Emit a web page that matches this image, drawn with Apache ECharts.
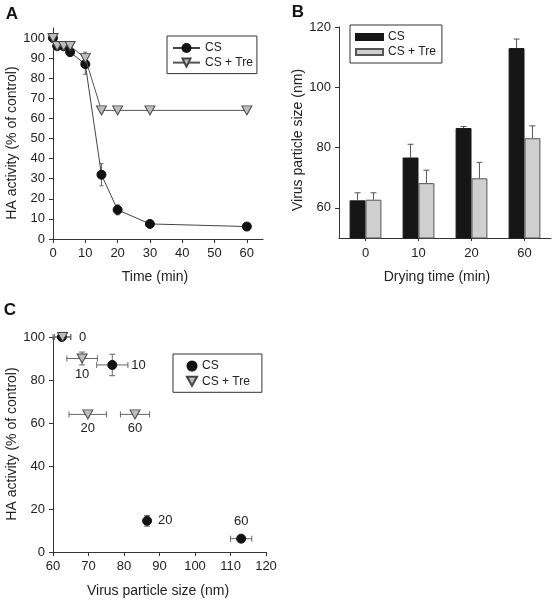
<!DOCTYPE html>
<html><head><meta charset="utf-8">
<script src="https://cdn.jsdelivr.net/npm/echarts@6/dist/echarts.min.js"></script>
<style>html,body{margin:0;padding:0;background:#fff}#c{width:557px;height:601px}</style>
</head><body><div id="c"></div>
<script>
// ---------- Panel A: HA activity vs time ----------
const timeA = [0, 1.3, 3.3, 5.3, 10, 15, 20, 30, 60];
const haCS = [100, 96, 96, 93, 87, 32, 14.5, 7.5, 6.2];
const haCSErr = [0.5, 1, 1, 2, 5, 5.5, 2.5, 1, 1];
const haTre = [100, 96, 96, 96, 90, 64, 64, 64, 64];
const haTreErr = [0.5, 1, 1, 1, 3, 1, 0.5, 0.5, 0.5];
const ticksAx = [0, 10, 20, 30, 40, 50, 60];
const ticksAy = [0, 10, 20, 30, 40, 50, 60, 70, 80, 90, 100];
// ---------- Panel B: particle size vs drying time ----------
const dryCats = ['0', '10', '20', '60'];
const sizeCS = [62.5, 76.7, 86.5, 113];
const sizeCSErr = [2.5, 4.4, 0.5, 3];
const sizeTre = [62.7, 68.2, 69.8, 83.1];
const sizeTreErr = [2.3, 4.3, 5.3, 4.1];
const ticksBy = [60, 80, 100, 120];
// ---------- Panel C ----------
const ticksCx = [60, 70, 80, 90, 100, 110, 120];
const ticksCy = [0, 20, 40, 60, 80, 100];
const seriesNames = ['CS', 'CS + Tre'];

const FONT = "'Liberation Sans', Arial, sans-serif";
const TXT = '#222';
const AX = '#333';

// Build panel C points from A and B
function buildC(sizes, sizeErr, ha, haErr) {
  return dryCats.map((c, i) => {
    const t = Number(c);
    const k = timeA.indexOf(t);
    return [sizes[i], ha[k], sizeErr[i], haErr[k], c];
  });
}
const cCS = buildC(sizeCS, sizeCSErr, haCS, haCSErr);
const cTre = buildC(sizeTre, sizeTreErr, haTre, haTreErr);

function styl(c) { return { stroke: c || '#666', lineWidth: 1 }; }

function errYRender(cap) {
  return function (params, api) {
    const x = api.value(0), y = api.value(1), e = api.value(2);
    const t = api.coord([x, y + e]), b = api.coord([x, y - e]);
    const s = styl();
    return { type: 'group', children: [
      { type: 'line', shape: { x1: t[0], y1: t[1], x2: b[0], y2: b[1] }, style: s },
      { type: 'line', shape: { x1: t[0] - cap, y1: t[1], x2: t[0] + cap, y2: t[1] }, style: s },
      { type: 'line', shape: { x1: b[0] - cap, y1: b[1], x2: b[0] + cap, y2: b[1] }, style: s }
    ] };
  };
}
function errBarRender(side) {
  return function (params, api) {
    const ci = api.value(0), y = api.value(1), e = api.value(2);
    const band = api.size([1, 0])[0];
    const off = side * band * 0.15;
    const t = api.coord([ci, y + e]), b = api.coord([ci, y]);
    const x = t[0] + off;
    const s = styl('#555');
    return { type: 'group', children: [
      { type: 'line', shape: { x1: x, y1: t[1], x2: x, y2: b[1] }, style: s },
      { type: 'line', shape: { x1: x - 3, y1: t[1], x2: x + 3, y2: t[1] }, style: s }
    ] };
  };
}
function errXYRender(params, api) {
  const x = api.value(0), y = api.value(1), ex = api.value(2), ey = api.value(3);
  const s = styl();
  const ch = [];
  const l = api.coord([x - ex, y]), r = api.coord([x + ex, y]);
  ch.push({ type: 'line', shape: { x1: l[0], y1: l[1], x2: r[0], y2: r[1] }, style: s });
  ch.push({ type: 'line', shape: { x1: l[0], y1: l[1] - 3, x2: l[0], y2: l[1] + 3 }, style: s });
  ch.push({ type: 'line', shape: { x1: r[0], y1: r[1] - 3, x2: r[0], y2: r[1] + 3 }, style: s });
  if (ey > 0.6) {
    const t = api.coord([x, y + ey]), b = api.coord([x, y - ey]);
    ch.push({ type: 'line', shape: { x1: t[0], y1: t[1], x2: b[0], y2: b[1] }, style: s });
    ch.push({ type: 'line', shape: { x1: t[0] - 3, y1: t[1], x2: t[0] + 3, y2: t[1] }, style: s });
    ch.push({ type: 'line', shape: { x1: b[0] - 3, y1: b[1], x2: b[0] + 3, y2: b[1] }, style: s });
  }
  return { type: 'group', children: ch };
}

function valAxis(gi, min, max, ticks, extra) {
  return Object.assign({
    type: 'value', gridIndex: gi, min: min, max: max,
    splitLine: { show: false },
    axisLine: { show: true, lineStyle: { color: AX, width: 1 } },
    axisTick: { show: true, length: 4, lineStyle: { color: AX }, customValues: ticks },
    axisLabel: { color: TXT, fontSize: 13, fontFamily: FONT, margin: 8, customValues: ticks }
  }, extra || {});
}

const circleStyle = { color: '#111', borderColor: '#111', borderWidth: 1, opacity: 1 };
const triStyle = { color: '#bdbdbd', borderColor: '#444', borderWidth: 1, opacity: 1 };

// label settings for panel C points (index matches dryCats)
const cLabelCS = [{ show: false }, { show: true, position: 'right', distance: 14 },
  { show: true, position: 'right', distance: 6 }, { show: true, position: 'top', distance: 6 }];
const cLabelTre = [{ show: true, position: 'right', distance: 11 }, { show: true, position: 'bottom', distance: 4 },
  { show: true, position: 'bottom', distance: 3 }, { show: true, position: 'bottom', distance: 3 }];

const labelBase = { color: TXT, fontSize: 13, fontFamily: FONT, formatter: p => p.data.value[4] };

const chart = echarts.init(document.getElementById('c'), null, { renderer: 'canvas' });
const legendText = { color: TXT, fontSize: 12, fontFamily: FONT };
const legendCommon = {
  orient: 'vertical', borderColor: AX, borderWidth: 1, borderRadius: 0,
  backgroundColor: '#fff', textStyle: legendText, selectedMode: false,
  formatter: n => n.trim()
};
const downTri = 'path://M0,0 L10,0 L5,9 Z';

chart.setOption({
  animation: false,
  backgroundColor: '#fff',
  textStyle: { fontFamily: FONT },
  grid: [
    { left: 53, top: 28, width: 210, height: 211 },
    { left: 339, top: 27, width: 212, height: 211 },
    { left: 53, top: 337, width: 213, height: 215 }
  ],
  xAxis: [
    valAxis(0, 0, 65, ticksAx, {}),
    {
      type: 'category', gridIndex: 1, data: dryCats,
      axisLine: { show: true, lineStyle: { color: AX, width: 1 } },
      axisTick: { show: true, alignWithLabel: true, length: 3, lineStyle: { color: AX } },
      axisLabel: { color: TXT, fontSize: 13, fontFamily: FONT, margin: 9 }
    },
    valAxis(2, 60, 120, ticksCx, {})
  ],
  yAxis: [
    valAxis(0, 0, 105, ticksAy, {}),
    valAxis(1, 50, 120, ticksBy, {}),
    valAxis(2, 0, 100, ticksCy, {})
  ],
  legend: [
    Object.assign({ left: 167, top: 36, padding: [6, 4, 5, 5], itemWidth: 27, itemHeight: 10, itemGap: 2.6,
      data: ['CS', 'CS + Tre'] }, legendCommon),
    Object.assign({ left: 350, top: 25, padding: [6, 6, 5, 5], itemWidth: 27, itemHeight: 6, itemGap: 3,
      icon: 'rect', data: ['CS ', 'CS + Tre '] }, legendCommon),
    Object.assign({ left: 173, top: 354, padding: [6, 12, 5, 13], itemWidth: 10, itemHeight: 9, itemGap: 3.3,
      data: [{ name: 'CS  ', icon: 'circle' }, { name: 'CS + Tre  ', icon: downTri }] }, legendCommon)
  ],
  series: [
    // Panel A error bars
    { type: 'custom', name: 'errA1', xAxisIndex: 0, yAxisIndex: 0, z: 1, renderItem: errYRender(2),
      encode: { x: 0, y: 1 }, data: timeA.map((t, i) => [t, haCS[i], haCSErr[i]]) },
    { type: 'custom', name: 'errA2', xAxisIndex: 0, yAxisIndex: 0, z: 1, renderItem: errYRender(2),
      encode: { x: 0, y: 1 }, data: timeA.map((t, i) => [t, haTre[i], haTreErr[i]]) },
    { type: 'line', name: seriesNames[0], xAxisIndex: 0, yAxisIndex: 0, z: 3,
      data: timeA.map((t, i) => [t, haCS[i]]),
      symbol: 'circle', symbolSize: 9, showSymbol: true,
      lineStyle: { color: '#444', width: 1 }, itemStyle: circleStyle },
    { type: 'line', name: seriesNames[1], xAxisIndex: 0, yAxisIndex: 0, z: 4,
      data: timeA.map((t, i) => [t, haTre[i]]),
      symbol: 'triangle', symbolRotate: 180, symbolSize: [10, 9], showSymbol: true,
      lineStyle: { color: '#555', width: 1 }, itemStyle: triStyle },
    // Panel B bars
    { type: 'bar', name: seriesNames[0] + ' ', xAxisIndex: 1, yAxisIndex: 1, z: 2,
      data: sizeCS, barCategoryGap: '40%', barGap: '0%',
      itemStyle: { color: '#161616', borderColor: '#161616', borderWidth: 1 } },
    { type: 'bar', name: seriesNames[1] + ' ', xAxisIndex: 1, yAxisIndex: 1, z: 2,
      data: sizeTre, barCategoryGap: '40%', barGap: '0%',
      itemStyle: { color: '#cfcfcf', borderColor: '#555', borderWidth: 1 } },
    { type: 'custom', name: 'errB1', xAxisIndex: 1, yAxisIndex: 1, z: 1, renderItem: errBarRender(-1),
      encode: { x: 0, y: 1 }, data: dryCats.map((c, i) => [i, sizeCS[i], sizeCSErr[i]]) },
    { type: 'custom', name: 'errB2', xAxisIndex: 1, yAxisIndex: 1, z: 1, renderItem: errBarRender(1),
      encode: { x: 0, y: 1 }, data: dryCats.map((c, i) => [i, sizeTre[i], sizeTreErr[i]]) },
    // Panel C
    { type: 'custom', name: 'errC1', xAxisIndex: 2, yAxisIndex: 2, z: 1, renderItem: errXYRender,
      encode: { x: 0, y: 1 }, data: cCS.map(d => d.slice(0, 4)) },
    { type: 'custom', name: 'errC2', xAxisIndex: 2, yAxisIndex: 2, z: 1, renderItem: errXYRender,
      encode: { x: 0, y: 1 }, data: cTre.map(d => d.slice(0, 4)) },
    { type: 'scatter', name: seriesNames[0] + '  ', xAxisIndex: 2, yAxisIndex: 2, z: 3,
      symbol: 'circle', symbolSize: 9, itemStyle: circleStyle,
      data: cCS.map((d, i) => ({ value: d, label: Object.assign({}, labelBase, cLabelCS[i]) })) },
    { type: 'scatter', name: seriesNames[1] + '  ', xAxisIndex: 2, yAxisIndex: 2, z: 4,
      symbol: 'triangle', symbolRotate: 180, symbolSize: [10, 9], itemStyle: triStyle,
      data: cTre.map((d, i) => ({ value: d, label: Object.assign({}, labelBase, cLabelTre[i]) })) }
  ],
  graphic: [
    { type: 'text', x: 12, y: 14, style: { text: 'A', font: "bold 17px 'Liberation Sans', Arial", fill: '#111', align: 'center', verticalAlign: 'middle' } },
    { type: 'text', x: 298, y: 12, style: { text: 'B', font: "bold 17px 'Liberation Sans', Arial", fill: '#111', align: 'center', verticalAlign: 'middle' } },
    { type: 'text', x: 10, y: 310, style: { text: 'C', font: "bold 17px 'Liberation Sans', Arial", fill: '#111', align: 'center', verticalAlign: 'middle' } },
    { type: 'text', x: 155, y: 277, style: { text: 'Time (min)', font: "14px 'Liberation Sans', Arial", fill: TXT, align: 'center', verticalAlign: 'middle' } },
    { type: 'text', x: 437, y: 277, style: { text: 'Drying time (min)', font: "14px 'Liberation Sans', Arial", fill: TXT, align: 'center', verticalAlign: 'middle' } },
    { type: 'text', x: 158, y: 591, style: { text: 'Virus particle size (nm)', font: "14px 'Liberation Sans', Arial", fill: TXT, align: 'center', verticalAlign: 'middle' } },
    { type: 'text', x: 12, y: 143, rotation: Math.PI / 2, style: { text: 'HA activity (% of control)', font: "14px 'Liberation Sans', Arial", fill: TXT, align: 'center', verticalAlign: 'middle' } },
    { type: 'text', x: 298, y: 140, rotation: Math.PI / 2, style: { text: 'Virus particle size (nm)', font: "14px 'Liberation Sans', Arial", fill: TXT, align: 'center', verticalAlign: 'middle' } },
    { type: 'text', x: 12, y: 444, rotation: Math.PI / 2, style: { text: 'HA activity (% of control)', font: "14px 'Liberation Sans', Arial", fill: TXT, align: 'center', verticalAlign: 'middle' } }
  ]
});
</script>
</body></html>
